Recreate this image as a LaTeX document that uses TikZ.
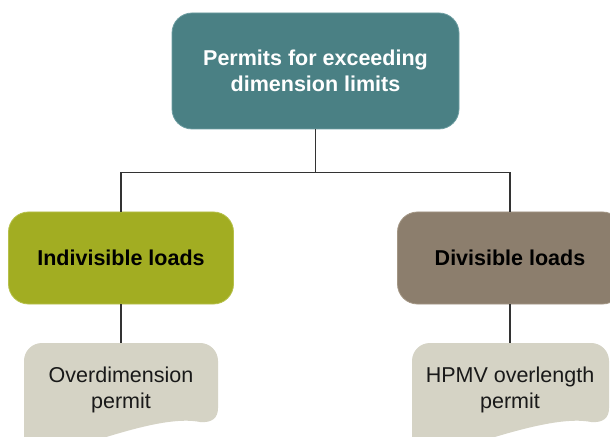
\documentclass[tikz,border=0pt]{standalone}
\usepackage{fontspec}
\setmainfont{Liberation Sans}
\definecolor{teal1}{HTML}{4A8084}
\definecolor{teal1e}{HTML}{6E9EA2}
\definecolor{olive1}{HTML}{A2AD22}
\definecolor{olive1e}{HTML}{B6C04A}
\definecolor{brown1}{HTML}{8C7E6D}
\definecolor{brown1e}{HTML}{A39684}
\definecolor{doc1}{HTML}{D5D3C5}
\definecolor{conn1}{HTML}{333333}
\begin{document}
\begin{tikzpicture}[x=1bp,y=-1bp,
  bigfont/.style={font=\fontsize{21.5bp}{26bp}\selectfont},
  rbox/.style={rounded corners=20bp, align=center, inner sep=0pt, line width=0.8bp, bigfont},
  topbox/.style={rbox, fill=teal1, draw=teal1e, text=white, font=\fontsize{21.5bp}{26bp}\selectfont\bfseries, minimum width=287bp, minimum height=116bp},
  midbox/.style={rbox, text=black, font=\fontsize{21.5bp}{26bp}\selectfont\bfseries, minimum width=225bp, minimum height=92bp},
  doctext/.style={align=center, inner sep=0pt, text=black!90, bigfont, minimum width=194bp, minimum height=94bp},
  docshape/.style={fill=doc1},
  conn/.style={draw=conn1, line width=1.3bp}]
\clip (0,0) rectangle (610,437);
\fill[white] (0,0) rectangle (610,437);

\node[topbox] (top) at (315.5,71) {Permits for exceeding\\dimension limits};
\node[midbox, fill=olive1, draw=olive1e] (ind) at (121,258) {Indivisible loads};
\node[midbox, fill=brown1, draw=brown1e] (div) at (510,258) {Divisible loads};

% document shapes
\fill[docshape] (24,460) -- (24,361) .. controls (24,351) and (32,343) .. (42,343) -- (200,343)
  .. controls (210,343) and (218,351) .. (218,361) -- (218,408)
  .. controls (218,418) and (212,423) .. (200,422)
  .. controls (170,416) and (120,432) .. (60,452) -- (24,460) -- cycle;
\begin{scope}[xshift=388bp]
\fill[docshape] (24,460) -- (24,361) .. controls (24,351) and (32,343) .. (42,343) -- (203,343)
  .. controls (213,343) and (221,351) .. (221,361) -- (221,408)
  .. controls (221,418) and (215,423) .. (203,422)
  .. controls (173,416) and (120,432) .. (60,452) -- (24,460) -- cycle;
\end{scope}
\node[doctext] (od) at (121,390) {Overdimension\\permit};
\node[doctext] (hp) at (510,390) {HPMV overlength\\permit};

% connectors
\draw[conn] (top.south) -- ++(0,43) -| (ind.north);
\draw[conn] (top.south) -- ++(0,43) -| (div.north);
\draw[conn] (ind.south) -- (od.north);
\draw[conn] (div.south) -- (hp.north);
\end{tikzpicture}
\end{document}
